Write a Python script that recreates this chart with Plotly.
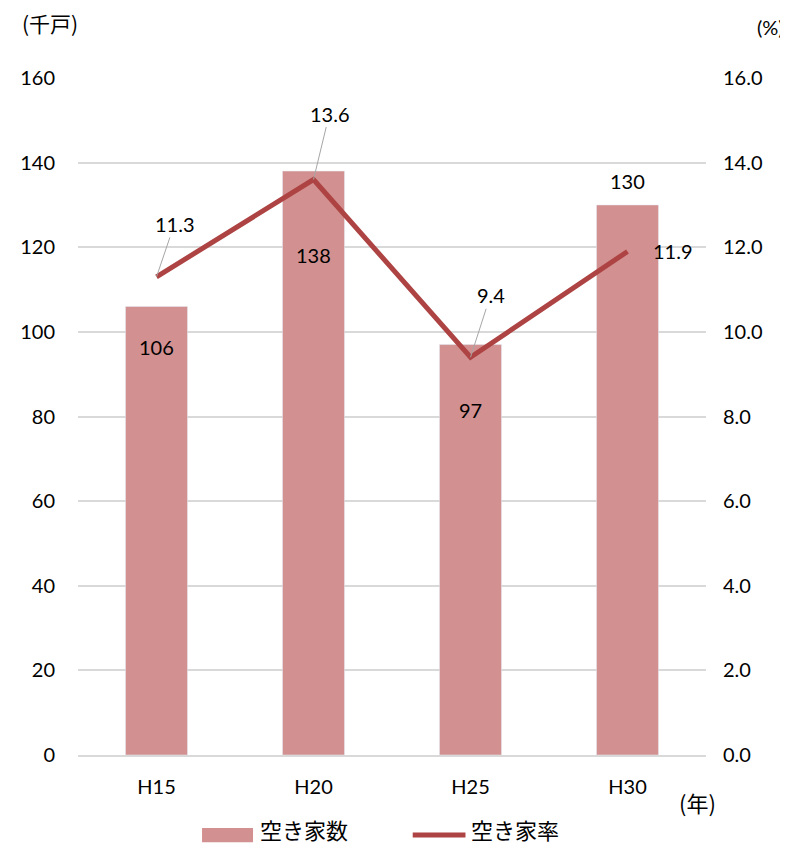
import plotly.graph_objects as go

categories = ["H15", "H20", "H25", "H30"]
vacant_counts = [106, 138, 97, 130]
vacant_rates = [11.3, 13.6, 9.4, 11.9]
left_ticks = [0, 20, 40, 60, 80, 100, 120, 140, 160]
right_ticks = [0, 2, 4, 6, 8, 10, 12, 14, 16]

BAR = "#D29190"
LINE = "#AE4343"
FONT = "Lato, Noto Sans CJK JP, sans-serif"
CJK = "Noto Sans CJK JP, sans-serif"
NUM = 20

fig = go.Figure()
fig.add_trace(go.Bar(x=categories, y=vacant_counts, name="空き家数", marker_color=BAR,
                     width=0.395, yaxis="y", showlegend=False))
fig.add_trace(go.Scatter(x=categories, y=vacant_rates, name="空き家率", mode="lines",
                         line=dict(color=LINE, width=5), yaxis="y2", showlegend=False))

# bar labels (offsets mimic the reference placement)
bar_shifts = [-41, -84, -65, 24]
for c, v, s in zip(categories, vacant_counts, bar_shifts):
    fig.add_annotation(x=c, y=v, yref="y", text=str(v), showarrow=False, yshift=s,
                       font=dict(size=NUM, color="#000000", family=FONT))

# rate labels with leader lines
rate_offsets = [(18, -53), (16, -66), (20, -62), None]
for c, v, off in zip(categories, vacant_rates, rate_offsets):
    if off is None:
        fig.add_annotation(x=c, y=v, yref="y2", text=f"{v:.1f}", showarrow=False,
                           xshift=45, font=dict(size=NUM, color="#000000", family=FONT))
    else:
        fig.add_annotation(x=c, y=v, yref="y2", text=f"{v:.1f}", showarrow=True,
                           arrowhead=0, arrowwidth=1, arrowcolor="#A6A6A6",
                           ax=off[0], ay=off[1], standoff=0,
                           font=dict(size=NUM, color="#000000", family=FONT))

fig.add_annotation(xref="paper", yref="paper", x=0, xshift=-28, y=1.0, yshift=55, text="(千戸)",
                   showarrow=False, xanchor="center", yanchor="middle",
                   font=dict(size=21, color="#000000", family=CJK))
fig.add_annotation(xref="paper", yref="paper", x=1.0, xshift=64, y=1.0, yshift=51, text="(%)",
                   showarrow=False, xanchor="center", yanchor="middle",
                   font=dict(size=NUM, color="#000000", family=FONT))
fig.add_annotation(xref="paper", yref="paper", x=1.0, xshift=-9, y=0, yshift=-47, text="(年)",
                   showarrow=False, xanchor="center", yanchor="middle",
                   font=dict(size=22, color="#000000", family=CJK))

# custom legend (wide swatch like the reference)
LY = -0.1182
TY = -0.109
fig.add_shape(type="rect", xref="paper", yref="paper", x0=0.1975, x1=0.2787,
              y0=LY - 0.0105, y1=LY + 0.0105, fillcolor=BAR, line=dict(width=0))
fig.add_annotation(xref="paper", yref="paper", x=0.2866, y=TY, text="空き家数",
                   showarrow=False, xanchor="left", yanchor="middle",
                   font=dict(size=22, color="#000000", family=CJK))
fig.add_shape(type="line", xref="paper", yref="paper", x0=0.533, x1=0.617,
              y0=LY, y1=LY, line=dict(color=LINE, width=5))
fig.add_annotation(xref="paper", yref="paper", x=0.622, y=TY, text="空き家率",
                   showarrow=False, xanchor="left", yanchor="middle",
                   font=dict(size=22, color="#000000", family=CJK))

# page body has an 8px margin, so the plot area is shifted accordingly
fig.update_layout(
    width=788, height=845,
    margin=dict(l=70, r=90, t=70, b=98, autoexpand=False),
    paper_bgcolor="white", plot_bgcolor="white",
    font=dict(family=FONT, size=NUM, color="#000000"),
    showlegend=False,
    xaxis=dict(showgrid=False, showline=True, linecolor="#D9D9D9", linewidth=1.5,
               ticks="", tickfont=dict(size=NUM), automargin=False, ticklabelstandoff=13),
    yaxis=dict(range=[0, 160], tickvals=left_ticks, showgrid=True, gridcolor="#D9D9D9",
               gridwidth=1.5, zeroline=False, ticks="", tickfont=dict(size=NUM),
               ticklabelstandoff=22, automargin=False),
    yaxis2=dict(range=[0, 16], tickvals=right_ticks, ticktext=[f"{t:.1f}" for t in right_ticks],
                overlaying="y", side="right", showgrid=False, zeroline=False, ticks="",
                tickfont=dict(size=NUM), ticklabelstandoff=16, automargin=False),
    bargap=0.6,
)

fig.write_html("out.html")
